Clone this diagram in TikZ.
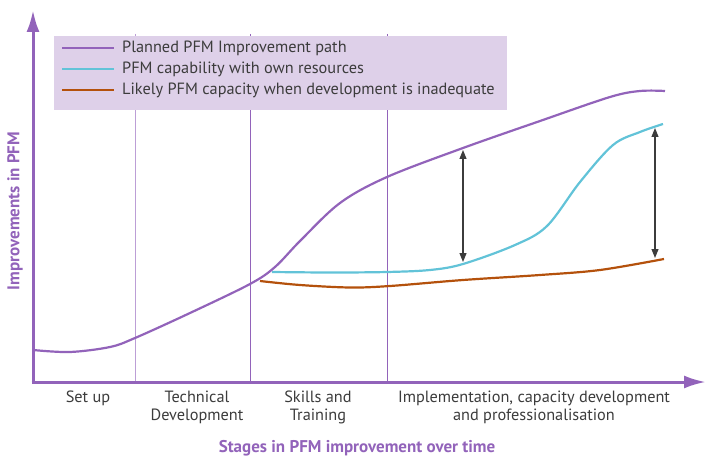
\documentclass[tikz,border=0pt]{standalone}
\usepackage{fontspec}
\setmainfont{PT Sans}
\usetikzlibrary{arrows.meta}
\definecolor{pfmpurple}{HTML}{9263BA}
\definecolor{pfmlilac}{HTML}{BC9FD6}
\definecolor{pfmcyan}{HTML}{62C3D8}
\definecolor{pfmbrown}{HTML}{B4510C}
\definecolor{pfmbox}{HTML}{DED0E9}
\definecolor{pfmtext}{HTML}{3C3C3C}
\tikzset{
  stagelabel/.style={text=pfmtext, align=center, inner sep=0pt, font=\fontsize{16.3}{18}\selectfont},
  legendtext/.style={text=pfmtext, anchor=west, inner sep=0pt, font=\fontsize{16.3}{18}\selectfont},
  axislabel/.style={text=pfmpurple, inner sep=0pt, font=\bfseries\fontsize{17}{19}\selectfont},
  gap/.style={line width=1.1pt, color=pfmtext, {Triangle[length=9pt,width=7pt]}-{Triangle[length=9pt,width=7pt]}}
}

\begin{document}
\begin{tikzpicture}[x=1pt, y=-1pt]
		%%%%% START %%%%%
		\useasboundingbox (0,0) rectangle (706,457);
		
		% stage dividers
		\draw[line width=1pt, color=pfmlilac] (135, 34) -- (135, 382);
		\draw[line width=1pt, color=pfmpurple] (250, 34) -- (250, 382);
		\draw[line width=1pt, color=pfmpurple] (387, 34) -- (387, 382);
		
		% legend
		\fill[pfmbox] (54, 36) rectangle (507, 110);
		\draw[line width=2.2pt, color=pfmpurple] (62, 48) -- (114, 48);
		\draw[line width=2.2pt, color=pfmcyan] (62, 69) -- (114, 69);
		\draw[line width=2.2pt, color=pfmbrown] (62, 90) -- (114, 90);
		\node[legendtext] (lgplan) at (122, 48) {Planned PFM Improvement path};
		\node[legendtext] (lgown) at (122, 69) {PFM capability with own resources};
		\node[legendtext] (lglikely) at (122, 90) {Likely PFM capacity when development is inadequate};
		
		% axes
		\draw[line width=3pt, color=pfmpurple, -{Latex[length=22pt,width=13pt]}] (33, 383.5) -- (33, 10);
		\draw[line width=3pt, color=pfmpurple, -{Latex[length=22pt,width=13pt]}] (31.5, 382) -- (706, 382);
		
		% curves
		\draw[line width=2.2pt, color=pfmcyan] plot[smooth, tension=0.55] coordinates {(272,272) (330,272.5) (387,272) (430,270) (463,264) (515,245) (547,226) (580,182) (613,145) (640,132) (663,124)};
		\draw[line width=2.2pt, color=pfmbrown] plot[smooth, tension=0.55] coordinates {(260,281) (300,285) (350,287.5) (390,286) (463,280) (540,275) (600,270) (664,259)};
		\draw[line width=2.2pt, color=pfmpurple] plot[smooth, tension=0.55] coordinates {(33,350) (70,352) (110,347) (135,338) (190,313) (250,284) (275,267) (300,241) (340,203) (387,177) (463,148) (540,121) (610,97) (640,91) (665,91)};
		
		% gaps
		\coordinate (gapAtop) at (463, 150);
		\coordinate (gapAbot) at (463, 262);
		\coordinate (gapBtop) at (655, 128);
		\coordinate (gapBbot) at (655, 258);
		\draw[gap] (gapAtop) -- (gapAbot);
		\draw[gap] (gapBtop) -- (gapBbot);
		
		% stage labels
		\node[stagelabel] (setup) at (88, 398) {Set up};
		\node[stagelabel] (techdev) at (197, 407) {Technical\\Development};
		\node[stagelabel] (skills) at (318, 407) {Skills and\\Training};
		\node[stagelabel] (implement) at (534, 407) {Implementation, capacity development\\and professionalisation};
		
		% axis titles
		\node[axislabel, rotate=90] (ytitle) at (15, 211) {Improvements in PFM};
		\node[axislabel, anchor=base] (xtitle) at (357, 452) {Stages in PFM improvement over time};
		
		%%%%% END %%%%%
	\end{tikzpicture}
\end{document}
